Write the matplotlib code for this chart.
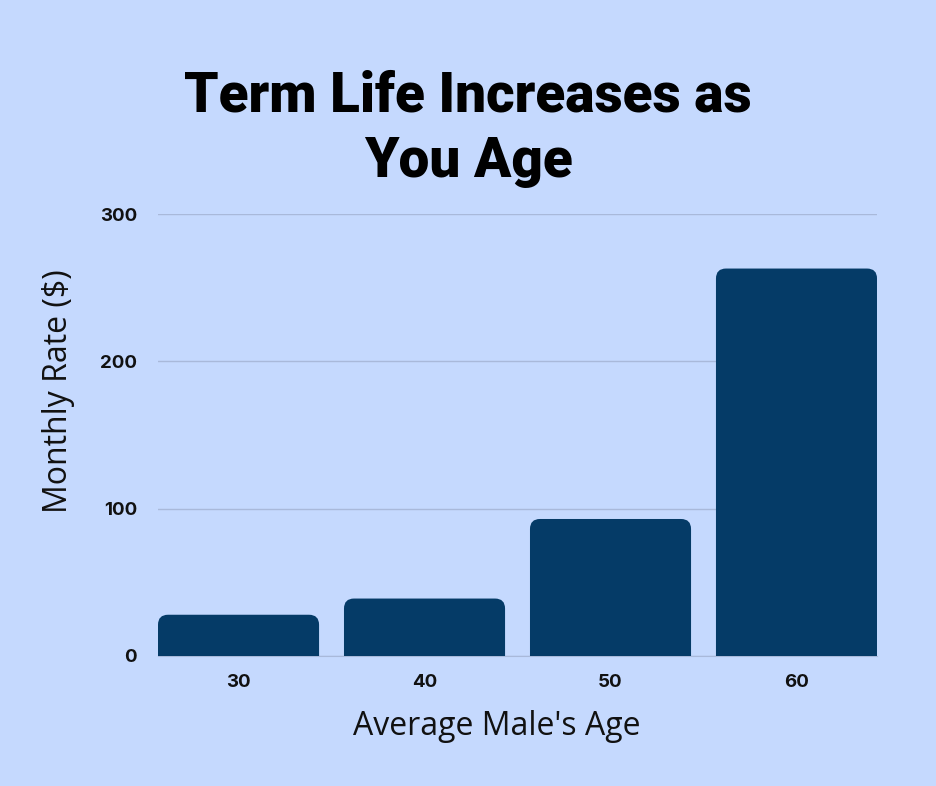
import matplotlib
matplotlib.use("Agg")
import matplotlib.pyplot as plt
from matplotlib.patches import FancyBboxPatch

# data
ages = ["30", "40", "50", "60"]
rates = [28, 39, 93, 263]
yticks = [0, 100, 200, 300]

bg = "#C5D9FE"
bar_color = "#053B67"
grid_color = "#A9B9DA"

fig = plt.figure(figsize=(9.36, 7.86), dpi=100, facecolor=bg)
ax = fig.add_axes([0.1688, 0.1654, 0.937 - 0.1688, 0.7277 - 0.1654])
ax.set_facecolor(bg)

x = list(range(len(ages)))
bars = ax.bar(x, rates, width=0.866, color=bar_color)
ax.set_xlim(-0.433, len(ages) - 1 + 0.433)
ax.set_ylim(0, 300)

# swap plain bars for ones with rounded tops
fig.canvas.draw()
bb = ax.get_window_extent()
px_x = bb.width / (ax.get_xlim()[1] - ax.get_xlim()[0])
px_y = bb.height / (ax.get_ylim()[1] - ax.get_ylim()[0])
r_px = 10
r = r_px / px_x
aspect = px_x / px_y
for b in bars:
    bx, bw, bh = b.get_x(), b.get_width(), b.get_height()
    b.set_visible(False)
    ext = r * aspect
    p = FancyBboxPatch((bx, -ext), bw, bh + ext,
                       boxstyle=f"round,pad=0,rounding_size={r}",
                       mutation_aspect=aspect, fc=bar_color, ec="none", zorder=3)
    ax.add_patch(p)

ax.set_yticks(yticks)
ax.set_xticks(x)
ax.set_xticklabels(ages)
ax.grid(axis="y", color=grid_color, linewidth=1)
ax.set_axisbelow(True)
for s in ["top", "right", "left"]:
    ax.spines[s].set_visible(False)
ax.spines["bottom"].set_color(grid_color)
ax.tick_params(length=0, pad=13)
ax.tick_params(axis="y", pad=15)
for lab in ax.get_xticklabels() + ax.get_yticklabels():
    lab.set_fontfamily("Inter")
    lab.set_fontweight("bold")
    lab.set_fontsize(13.5)
    lab.set_color("#111111")

ax.set_xlabel("Average Male's Age", fontfamily="Open Sans", fontsize=23,
              color="#111111", labelpad=14)
ax.set_ylabel("Monthly Rate ($)", fontfamily="Open Sans", fontsize=23,
              color="#111111", labelpad=18)
ax.xaxis.label.set_x(0.471)
ax.yaxis.label.set_y(0.6)

fig.text(0.5, 0.836, "Term Life Increases as\nYou Age", ha="center", va="center",
         fontfamily="Roboto", fontweight="black", fontsize=39.5,
         linespacing=1.3, color="black")

fig.savefig("out.png", dpi=100, facecolor=bg)
